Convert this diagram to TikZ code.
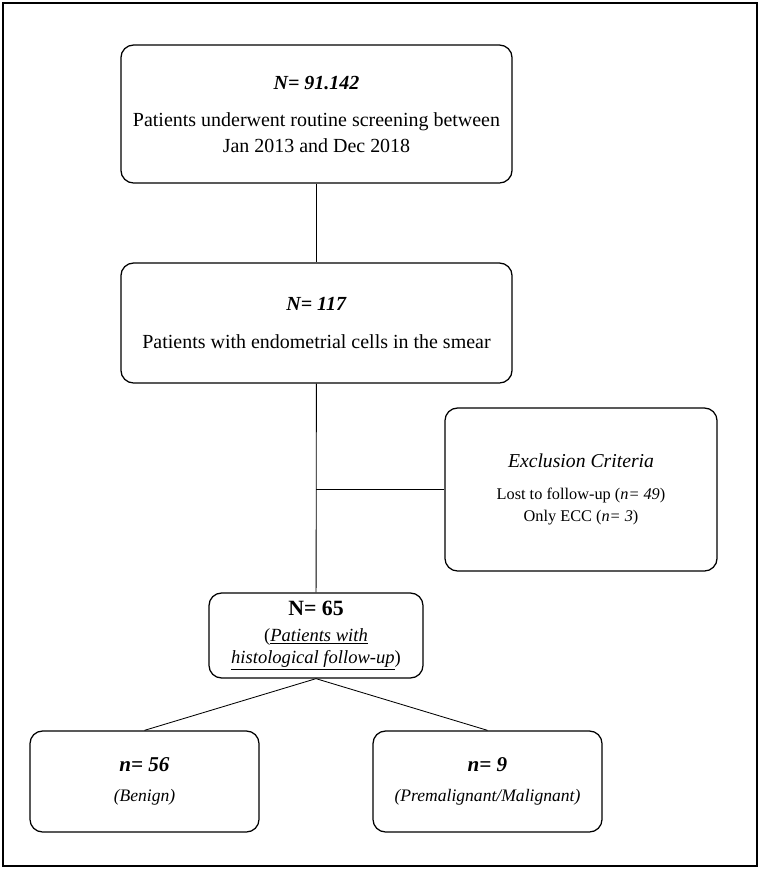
\documentclass[tikz,border=0pt]{standalone}
\usepackage{fontspec}
\setmainfont{Liberation Serif}
\usetikzlibrary{positioning,calc}

\begin{document}
\begin{tikzpicture}[
        x=0.025cm, y=-0.025cm,
        font=\fontsize{14.2}{18.4}\selectfont,
        box/.style={draw=black, rounded corners=9pt, line width=0.9pt, align=center, inner sep=0pt},
        link/.style={draw=black, line width=0.6pt}
    ]
        \useasboundingbox (0,0) rectangle (760,870);
        \draw[line width=1.4pt] (3,3) rectangle (757,866);

        \node[box, minimum width=9.775cm, minimum height=3.45cm] (screen) at (316.5,114)
            {\textbf{\textit{N= 91.142}}\\[8pt]Patients underwent routine screening between\\Jan 2013 and Dec 2018};
        \node[box, minimum width=9.775cm, minimum height=3.0cm] (smear) at (316.5,323)
            {\textbf{\textit{N= 117}}\\[9pt]Patients with endometrial cells in the smear};
        \node[box, minimum width=6.8cm, minimum height=4.075cm, font=\fontsize{11.6}{15.6}\selectfont] (excl) at (581,489.5)
            {{\fontsize{14}{18}\selectfont\textit{Exclusion Criteria}}\\[7pt]Lost to follow-up (\textit{n= 49})\\Only ECC (\textit{n= 3})};
        \node[box, minimum width=5.35cm, minimum height=2.125cm, font=\fontsize{13.2}{15.6}\selectfont] (histo) at (316,635.5)
            {{\fontsize{15.5}{18}\selectfont\textbf{N= 65}}\\[3pt](\textit{\underline{Patients with}}\\\textit{\underline{histological follow-up}})};
        \node[box, minimum width=5.725cm, minimum height=2.525cm] (benign) at (144.5,781.5)
            {{\fontsize{15}{18}\selectfont\textbf{\textit{n= 56}}}\\[3pt]{\fontsize{12.5}{15}\selectfont\textit{(Benign)}}};
        \node[box, minimum width=5.725cm, minimum height=2.525cm] (malig) at (487.5,781.5)
            {{\fontsize{15}{18}\selectfont\textbf{\textit{n= 9}}}\\[3pt]{\fontsize{12.5}{15}\selectfont\textit{(Premalignant/Malignant)}}};

        \coordinate (split) at (histo.north |- excl.west);

        \draw[link] (screen) -- (smear);
        \draw[link] (smear) -- (histo);
        \draw[link] (split) -- (excl.west);
        \draw[link] (histo.south) -- (benign.north);
        \draw[link] (histo.south) -- (malig.north);
\end{tikzpicture}
\end{document}
